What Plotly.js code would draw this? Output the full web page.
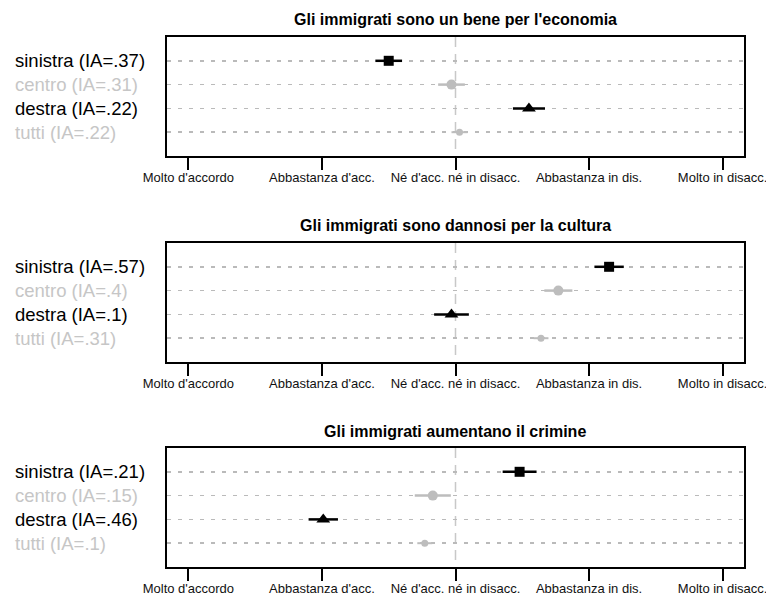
<!DOCTYPE html>
<html>
<head>
<meta charset="utf-8">
<script src="https://cdn.plot.ly/plotly-3.0.1.min.js"></script>
<style>html,body{margin:0;padding:0;background:#fff;}#chart{width:766px;height:598px;}</style>
</head>
<body>
<div id="chart"></div>
<script>
// ---- data ----
const scaleLabels = ["Molto d'accordo", "Abbastanza d'acc.", "Né d'acc. né in disacc.", "Abbastanza in dis.", "Molto in disacc."];
const scaleValues = [1, 2, 3, 4, 5];
const neutralValue = 3;
const panelTitles = [
  "Gli immigrati sono un bene per l'economia",
  "Gli immigrati sono dannosi per la cultura",
  "Gli immigrati aumentano il crimine"
];
const groups = ["sinistra", "centro", "destra", "tutti"];
const iaEconomia = [".37", ".31", ".22", ".22"];
const iaCultura  = [".57", ".4", ".1", ".31"];
const iaCrimine  = [".21", ".15", ".46", ".1"];
const meanEconomia = [2.50, 2.97, 3.55, 3.03];
const errEconomia  = [0.10, 0.10, 0.12, 0.06];
const meanCultura  = [4.15, 3.77, 2.97, 3.64];
const errCultura   = [0.11, 0.105, 0.13, 0.056];
const meanCrimine  = [3.48, 2.83, 2.01, 2.77];
const errCrimine   = [0.127, 0.135, 0.11, 0.056];

// ---- styles ----
const FONT = "Liberation Sans, Arial, Helvetica, sans-serif";
const GRAY = "#bdbdbd";
const TEXTGRAY = "#c6c6c6";
const groupStyle = [
  {color: "#000", text: "#000", symbol: "square", size: 10, thick: 2.5},
  {color: GRAY, text: TEXTGRAY, symbol: "circle", size: 10, thick: 2.5},
  {color: "#000", text: "#000", symbol: "triangle-up", size: 12, thick: 2.5},
  {color: GRAY, text: TEXTGRAY, symbol: "circle", size: 7, thick: 2}
];
const W = 766, H = 598;
const boxLeft = 167, boxRight = 744;
const panelTops = [37, 243, 448];
const boxH = 119;
const titleY = [20, 225, 431];

const panels = [
  {title: panelTitles[0], ia: iaEconomia, mean: meanEconomia, err: errEconomia},
  {title: panelTitles[1], ia: iaCultura, mean: meanCultura, err: errCultura},
  {title: panelTitles[2], ia: iaCrimine, mean: meanCrimine, err: errCrimine}
];

const traces = [];
const annotations = [];
const shapes = [];
const layout = {
  width: W, height: H,
  margin: {l: 0, r: 0, t: 0, b: 0},
  paper_bgcolor: "#fff", plot_bgcolor: "#fff",
  showlegend: false,
  font: {family: FONT, color: "#000"},
  annotations: annotations,
  shapes: shapes
};

panels.forEach((p, pi) => {
  const sfx = pi === 0 ? "" : String(pi + 1);
  const xa = "x" + sfx, ya = "y" + sfx;
  const top = panelTops[pi];
  layout["xaxis" + sfx] = {
    domain: [boxLeft / W, boxRight / W],
    anchor: ya,
    range: [0.84, 5.16],
    tickvals: scaleValues,
    ticktext: scaleLabels,
    ticks: "outside", ticklen: 12, tickwidth: 2, tickcolor: "#000",
    tickfont: {family: FONT, size: 13, color: "#111"},
    ticklabeloverflow: "allow",
    ticklabelstandoff: -4,
    showline: true, linewidth: 2, linecolor: "#000", mirror: true,
    showgrid: false, zeroline: false, fixedrange: true
  };
  layout["yaxis" + sfx] = {
    domain: [1 - (top + boxH) / H, 1 - top / H],
    anchor: xa,
    range: [5, 0],
    tickvals: [1, 2, 3, 4],
    showticklabels: false, ticks: "",
    showgrid: true, gridcolor: "#bababa", gridwidth: 1.5, griddash: "4px,7px",
    showline: true, linewidth: 2, linecolor: "#000", mirror: true,
    zeroline: false, fixedrange: true
  };
  shapes.push({
    type: "line", xref: xa, yref: ya, x0: neutralValue, x1: neutralValue, y0: 0, y1: 5,
    line: {color: "#c8c8c8", width: 1.5, dash: "10px,7px"}, layer: "below"
  });
  annotations.push({
    xref: "paper", yref: "paper",
    x: ((boxLeft + boxRight) / 2) / W, y: 1 - titleY[pi] / H,
    xanchor: "center", yanchor: "middle",
    text: "<b>" + p.title + "</b>", showarrow: false,
    font: {family: FONT, size: 16, color: "#000"}
  });
  groups.forEach((g, gi) => {
    const st = groupStyle[gi];
    annotations.push({
      xref: "paper", yref: ya, x: 13 / W, y: gi + 1,
      xanchor: "left", yanchor: "middle",
      text: g + " (IA=" + p.ia[gi] + ")", showarrow: false,
      font: {family: FONT, size: 18.5, color: st.text}
    });
    traces.push({
      type: "scatter", mode: "markers",
      xaxis: xa, yaxis: ya,
      x: [p.mean[gi]], y: [gi + 1],
      marker: {symbol: st.symbol, size: st.size, color: st.color, line: {width: 0}},
      error_x: {type: "data", array: [p.err[gi]], color: st.color, thickness: st.thick, width: 0},
      hoverinfo: "skip"
    });
  });
});

Plotly.newPlot("chart", traces, layout, {staticPlot: true, displayModeBar: false});
</script>
</body>
</html>
